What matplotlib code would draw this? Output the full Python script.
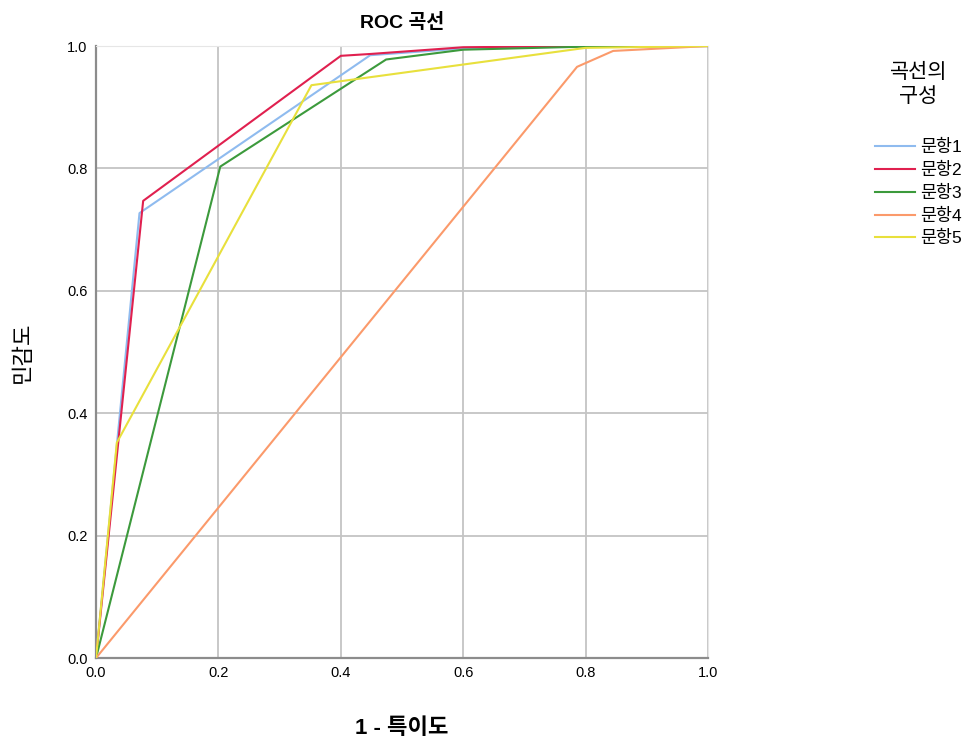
import matplotlib
matplotlib.use('Agg')
import matplotlib.pyplot as plt

plt.rcParams['font.family'] = ['Liberation Sans', 'Noto Sans CJK KR', 'DejaVu Sans']

# ROC points
labels = ['문항1', '문항2', '문항3', '문항4', '문항5']
fpr = [
    [0.0, 0.071, 0.448, 0.6, 0.8, 1.0],
    [0.0, 0.077, 0.400, 0.448, 0.6, 0.8, 1.0],
    [0.0, 0.203, 0.474, 0.6, 0.8, 1.0],
    [0.0, 0.786, 0.845, 1.0],
    [0.0, 0.034, 0.352, 0.8, 1.0],
]
tpr = [
    [0.0, 0.727, 0.985, 0.996, 1.0, 1.0],
    [0.0, 0.747, 0.984, 0.987, 0.998, 1.0, 1.0],
    [0.0, 0.803, 0.978, 0.994, 0.999, 1.0],
    [0.0, 0.966, 0.992, 1.0],
    [0.0, 0.352, 0.936, 0.997, 1.0],
]
colors = ['#8fbbef', '#e0204f', '#3c9a3c', '#fb9a6b', '#e8e03c']
ticks = [0.0, 0.2, 0.4, 0.6, 0.8, 1.0]

fig = plt.figure(figsize=(9.79, 7.40), dpi=100)
ax = fig.add_axes([0.0981, 0.1108, 0.6251, 0.827])

for x, y, c, lab in zip(fpr, tpr, colors, labels):
    ax.plot(x, y, color=c, lw=1.5, label=lab, zorder=3)

ax.set_xlim(0, 1)
ax.set_ylim(0, 1)
ax.set_xticks(ticks)
ax.set_yticks(ticks)
ax.set_xticklabels([f'{t:.1f}' for t in ticks], fontsize=10.5)
ax.set_yticklabels([f'{t:.1f}' for t in ticks], fontsize=10.5)
ax.tick_params(length=0, pad=6)
ax.grid(True, color='#c4c4c4', lw=1.3)
ax.set_axisbelow(True)
for s in ['top', 'right']:
    ax.spines[s].set_color('#e6e6e6')
for s in ['left', 'bottom']:
    ax.spines[s].set_color('#8c8c8c')
    ax.spines[s].set_linewidth(1.6)

ax.set_title('ROC 곡선', fontsize=14, fontweight='bold', pad=13)
ax.set_xlabel('1 - 특이도', fontsize=16, fontweight='bold', labelpad=27)
ax.set_ylabel('민감도', fontsize=16, labelpad=24)

leg = fig.legend(loc='upper left', bbox_to_anchor=(0.885, 0.927),
                 title='곡선의\n구성', title_fontsize=15, fontsize=12.5,
                 frameon=False, handlelength=2.3, handletextpad=0.3,
                 labelspacing=0.38, alignment='center', borderpad=0)
leg.get_title().set_multialignment('center')
leg.get_title().set_linespacing(1.35)
leg._legend_box.sep = 24

fig.savefig('out.png', dpi=100)
